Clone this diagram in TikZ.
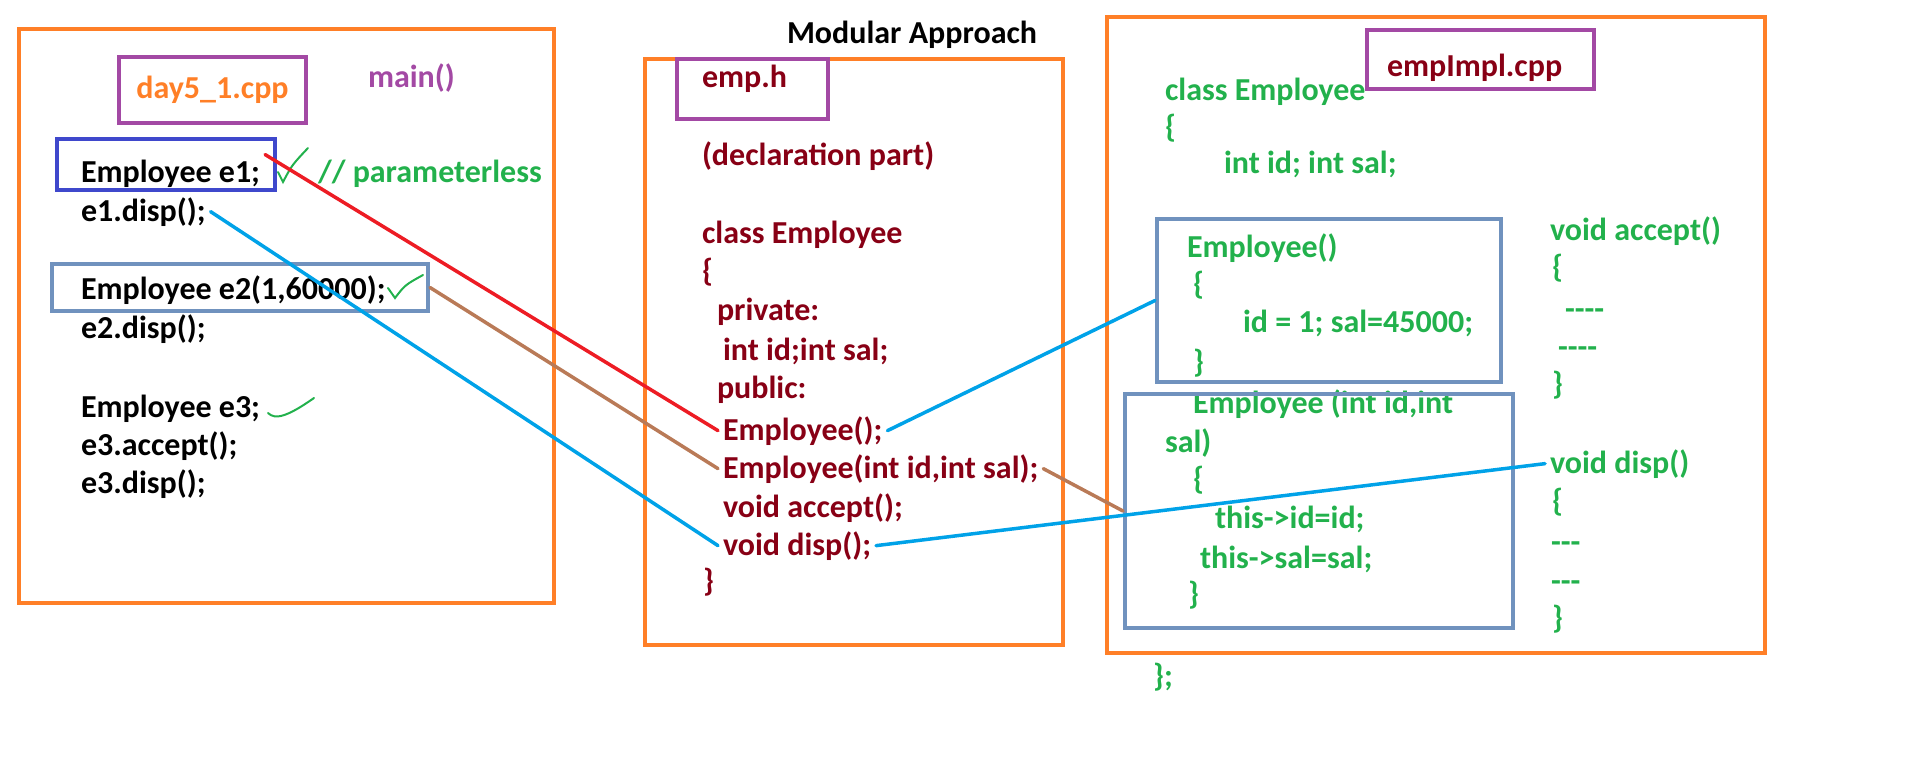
\documentclass[tikz,border=0pt]{standalone}
\usepackage{fontspec}
\setmainfont{Carlito}
\usepackage{tikz}

\definecolor{frameorange}{HTML}{FF7F27}
\definecolor{markpurple}{HTML}{A349A4}
\definecolor{markblue}{HTML}{3F48CC}
\definecolor{steel}{HTML}{7092BE}
\definecolor{darkred}{HTML}{880015}
\definecolor{codegreen}{HTML}{22B14C}
\definecolor{linkred}{HTML}{ED1C24}
\definecolor{linkblue}{HTML}{00A2E8}
\definecolor{linkbrown}{HTML}{B97A57}

\begin{document}
\begin{tikzpicture}[x=1pt,y=-1pt,
  code/.style={anchor=base west,inner sep=0pt,outer sep=5pt,xshift=-5pt,font=\bfseries\fontsize{32}{38}\selectfont},
  hcode/.style={code,text=darkred},
  icode/.style={code,text=codegreen},
  filebox/.style={draw=frameorange,line width=4pt},
  markbox/.style={draw,line width=4pt,inner sep=0pt},
  link/.style={line width=3.5pt,line cap=round},
  tick/.style={draw=codegreen,line width=2pt,line cap=round}]
  \useasboundingbox (0,0) rectangle (1914,763);

  % the three files
  \draw[filebox] (19,29) rectangle (554,603);
  \draw[filebox] (645,59) rectangle (1063,645);
  \draw[filebox] (1107,17) rectangle (1765,653);
  \node (title) at (787,43)[code]{Modular Approach};

  % day5_1.cpp
  \node (src) at (212.5,90)[markbox,draw=markpurple,minimum width=187pt,minimum height=66pt,
    text=frameorange,font=\bfseries\fontsize{32}{38}\selectfont]{day5\_1.cpp};
  \node (main) at (368,87)[code,text=markpurple]{main()};
  \node (e1decl) at (81,182)[code]{Employee e1;};
  \node (e1disp) at (81,221)[code]{e1.disp();};
  \node (e2decl) at (81,299)[code]{Employee e2(1,60000);};
  \node (e2disp) at (81,338)[code]{e2.disp();};
  \node (e3decl) at (81,417)[code]{Employee e3;};
  \node (e3acc) at (81,455)[code]{e3.accept();};
  \node (e3disp) at (81,493)[code]{e3.disp();};
  \node (note) at (318,182)[icode]{// parameterless};
  \node (e1box) at (166,164.5)[markbox,draw=markblue,minimum width=218pt,minimum height=51pt]{};
  \node (e2box) at (240,287.5)[markbox,draw=steel,minimum width=376pt,minimum height=47pt]{};
  \draw[tick] (278,172) -- (283,182) .. controls (292,165) .. (308,148);
  \draw[tick] (388,288) -- (395,298) .. controls (405,285) .. (423,275);
  \draw[tick] (268,413) .. controls (275,420) and (287,417) .. (314,398);

  % emp.h
  \node (hbox) at (752.5,89)[markbox,draw=markpurple,minimum width=151pt,minimum height=60pt]{};
  \node (hname) at (702,87)[hcode]{emp.h};
  \node (hpart) at (702,165)[hcode]{(declaration part)};
  \node (hclass) at (702,243)[hcode]{class Employee};
  \node (hopen) at (702,281)[hcode]{\{};
  \node (hpriv) at (717,320)[hcode]{private:};
  \node (hdata) at (723,360)[hcode]{int id;int sal;};
  \node (hpub) at (717,398)[hcode]{public:};
  \node (ctor1) at (723,440)[hcode]{Employee();};
  \node (ctor2) at (723,478)[hcode]{Employee(int id,int sal);};
  \node (acc) at (723,517)[hcode]{void accept();};
  \node (disp) at (723,555)[hcode]{void disp();};
  \node (hclose) at (703,591)[hcode]{\}};

  % empImpl.cpp
  \node (ibox) at (1480.5,59.5)[markbox,draw=markpurple,minimum width=227pt,minimum height=59pt]{};
  \node (iname) at (1387,76)[hcode]{empImpl.cpp};
  \node (iclass) at (1165,100)[icode]{class Employee};
  \node (iopen) at (1165,137)[icode]{\{};
  \node (idata) at (1224,173)[icode]{int id; int sal;};
  \node (i1head) at (1187,257)[icode]{Employee()};
  \node (i1open) at (1193,294)[icode]{\{};
  \node (i1body) at (1243,332)[icode]{id = 1; sal=45000;};
  \node (i1close) at (1193,372)[icode]{\}};
  \node (i2head) at (1193,413)[icode]{Employee (int id,int};
  \node (i2sal) at (1165,452)[icode]{sal)};
  \node (i2open) at (1193,489)[icode]{\{};
  \node (i2id) at (1215,528)[icode]{this->id=id;};
  \node (i2sal2) at (1200,568)[icode]{this->sal=sal;};
  \node (i2close) at (1188,604)[icode]{\}};
  \node (iend) at (1153,686)[icode]{\};};
  \node (iacc) at (1550,240)[icode]{void accept()};
  \node (iaccopen) at (1552,277)[icode]{\{};
  \node (iaccd1) at (1565,319)[icode]{-{}-{}-{}-};
  \node (iaccd2) at (1558,357)[icode]{-{}-{}-{}-};
  \node (iaccclose) at (1552,394)[icode]{\}};
  \node (idisp) at (1550,473)[icode]{void disp()};
  \node (idispopen) at (1552,511)[icode]{\{};
  \node (idispd1) at (1551,552)[icode]{-{}-{}-};
  \node (idispd2) at (1551,591)[icode]{-{}-{}-};
  \node (idispclose) at (1552,628)[icode]{\}};
  \node (impl1) at (1329,300.5)[markbox,draw=steel,minimum width=344pt,minimum height=163pt]{};
  \node (impl2) at (1319,511)[markbox,draw=steel,minimum width=388pt,minimum height=234pt]{};

  % links
  \draw[link,linkred] (e1decl.north east) -- (ctor1.west);
  \draw[link,linkblue] (e1disp.east) -- (disp.west);
  \draw[link,linkbrown] (e2box.east) -- (ctor2.west);
  \draw[link,linkblue] (ctor1.east) -- (impl1.west);
  \draw[link,linkbrown] (ctor2.east) -- (impl2.west);
  \draw[link,linkblue] (disp.east) -- (idisp.west);
\end{tikzpicture}
\end{document}
